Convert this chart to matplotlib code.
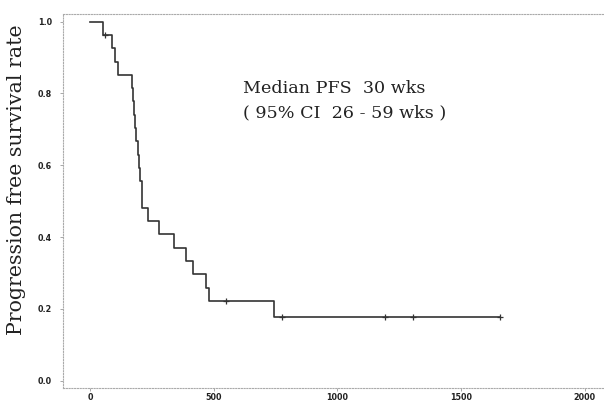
import matplotlib
matplotlib.use("Agg")
import matplotlib.pyplot as plt

# Kaplan-Meier steps (days, survival after the step)
event_times = [0, 54, 90, 100, 112, 168, 172, 176, 182, 185, 194, 198, 202,
               209, 212, 233, 279, 338, 388, 415, 469, 482, 744]
survival = [1.0, 26/27, 25/27, 24/27, 23/27, 22/27, 21/27, 20/27, 19/27, 18/27,
            17/27, 16/27, 15/27, 14/27, 13/27, 12/27, 11/27, 10/27, 9/27, 8/27,
            7/27, 6/27, 6/27 * 4/5]
last_time = 1656

censor_times = [60, 550, 777, 1193, 1306, 1656]
censor_surv = [26/27, 6/27, 6/27 * 4/5, 6/27 * 4/5, 6/27 * 4/5, 6/27 * 4/5]

x_ticks = [0, 500, 1000, 1500, 2000]
y_ticks = [0.0, 0.2, 0.4, 0.6, 0.8, 1.0]

fig = plt.figure(figsize=(6.04, 4.03), dpi=100)
ax = fig.add_axes([0.1048, 0.038, 0.8952, 0.9265])

xs = event_times + [last_time]
ys = survival + [survival[-1]]
ax.step(xs, ys, where="post", color="#333333", lw=1.2)
ax.plot(censor_times, censor_surv, "+", color="#333333", ms=5, mew=0.9)

ax.set_xlim(-108, 2078)
ax.set_ylim(-0.0195, 1.0206)
ax.set_xticks(x_ticks)
ax.set_yticks(y_ticks)
ax.set_xticklabels([str(v) for v in x_ticks])
ax.set_yticklabels(["%.1f" % v for v in y_ticks])
ax.tick_params(axis="both", length=2, width=0.6, color="#999999",
               labelsize=5.8)
ax.tick_params(axis="x", pad=1.5)
ax.tick_params(axis="y", pad=6)
for lab in ax.get_xticklabels() + ax.get_yticklabels():
    lab.set_fontweight("bold")
    lab.set_color("#222222")

for side in ["left", "top", "bottom"]:
    ax.spines[side].set_linestyle((0, (1, 1.5)))
    ax.spines[side].set_color("#aaaaaa")
    ax.spines[side].set_linewidth(0.8)
ax.spines["right"].set_visible(False)

ax.text(0.332, 0.8, "Median PFS  30 wks", transform=ax.transAxes,
        family="DejaVu Serif", fontsize=12.6, va="center", ha="left", color="#222222")
ax.text(0.332, 0.735, "( 95% CI  26 - 59 wks )", transform=ax.transAxes,
        family="DejaVu Serif", fontsize=12.6, va="center", ha="left", color="#222222")

fig.text(0.027, 0.553, "Progression free survival rate", rotation=90,
         family="DejaVu Serif", fontsize=14.8, va="center", ha="center", color="#222222")

fig.savefig("out.png", dpi=100)
